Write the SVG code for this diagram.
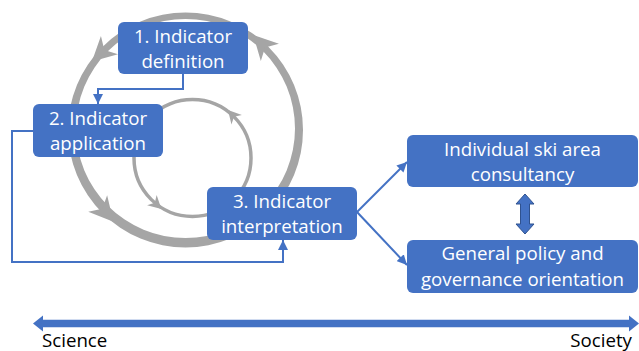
<svg xmlns="http://www.w3.org/2000/svg" width="639" height="351" viewBox="0 0 639 351">
<defs>
<style>
.box{fill:#4472C4;}
.lbl{font-family:"Open Sans","Liberation Sans",sans-serif;font-size:18.7px;fill:#fff;text-anchor:middle;}
.axl{font-family:"Open Sans","Liberation Sans",sans-serif;font-size:18.7px;fill:#000;}
.con{fill:none;stroke:#4472C4;stroke-width:2;}
.ring{fill:#A5A5A5;}
.ringi{fill:none;stroke:#A5A5A5;stroke-width:3.5;}
</style>
<marker id="ah" markerUnits="userSpaceOnUse" markerWidth="10" markerHeight="10" refX="8" refY="4" orient="auto" viewBox="0 0 8 8">
<path d="M0,0 L8,4 L0,8 z" fill="#4472C4"/>
</marker>
</defs>
<rect width="639" height="351" fill="#fff"/>
<g id="cycle">
<path class="ring" fill-rule="evenodd" d="M68,130 a117.5,117.5 0 1,0 235,0 a117.5,117.5 0 1,0 -235,0 z M76,128.5 a109.5,109.5 0 1,0 219,0 a109.5,109.5 0 1,0 -219,0 z"/>
<polygon class="ring" points="22,0 -2,-12.5 5,0 -2,12.5" transform="translate(268.5,51) rotate(-133.6)"/>
<polygon class="ring" points="22,0 -2,-12.5 5,0 -2,12.5" transform="translate(108,46.5) rotate(137)"/>
<polygon class="ring" points="22,0 -2,-12.5 5,0 -2,12.5" transform="translate(99,205) rotate(49.1)"/>
<circle class="ringi" cx="192.5" cy="158" r="58.5"/>
<polygon class="ring" points="12,0 -1,-7 3,0 -1,7" transform="translate(236,119) rotate(-132)"/>
<polygon class="ring" points="12,0 -1,-7 3,0 -1,7" transform="translate(152.6,200.8) rotate(43)"/>
</g>
<g id="connectors">
<path class="con" d="M183,74 V89 H98 V104" marker-end="url(#ah)"/>
<path class="con" d="M33,131 H12 V262 H283 V240" marker-end="url(#ah)"/>
<path class="con" d="M357,212 L407,162" marker-end="url(#ah)"/>
<path class="con" d="M357,212 L407,265" marker-end="url(#ah)"/>
<polygon points="525,194 534,204 529.5,204 529.5,224 534,224 525,234 516,224 520.5,224 520.5,204 516,204" fill="#4472C4" stroke="#2F528F" stroke-width="1"/>
</g>
<g id="n1">
<rect class="box" x="118" y="22" width="130" height="52" rx="6"/>
<text class="lbl" x="183" y="43">1. Indicator</text>
<text class="lbl" x="183" y="68">definition</text>
</g>
<g id="n2">
<rect class="box" x="33" y="104" width="130" height="53" rx="6"/>
<text class="lbl" x="98" y="125">2. Indicator</text>
<text class="lbl" x="98" y="150">application</text>
</g>
<g id="n3">
<rect class="box" x="207" y="187" width="150" height="53" rx="6"/>
<text class="lbl" x="282" y="208">3. Indicator</text>
<text class="lbl" x="282" y="233">interpretation</text>
</g>
<g id="n4">
<rect class="box" x="407" y="135" width="231" height="52" rx="6"/>
<text class="lbl" x="522.5" y="156">Individual ski area</text>
<text class="lbl" x="522.5" y="181">consultancy</text>
</g>
<g id="n5">
<rect class="box" x="407" y="240" width="231" height="53" rx="6"/>
<text class="lbl" x="522.5" y="260">General policy and</text>
<text class="lbl" x="522.5" y="286">governance orientation</text>
</g>
<g id="axis">
<line x1="42" y1="323.5" x2="630" y2="323.5" stroke="#4472C4" stroke-width="7.5"/>
<polygon points="33,323.5 43,315.5 43,331.5" fill="#4472C4"/>
<polygon points="639,323.5 629,315.5 629,331.5" fill="#4472C4"/>
<text class="axl" x="42" y="346.5">Science</text>
<text class="axl" x="632" y="346.5" text-anchor="end">Society</text>
</g>
</svg>
